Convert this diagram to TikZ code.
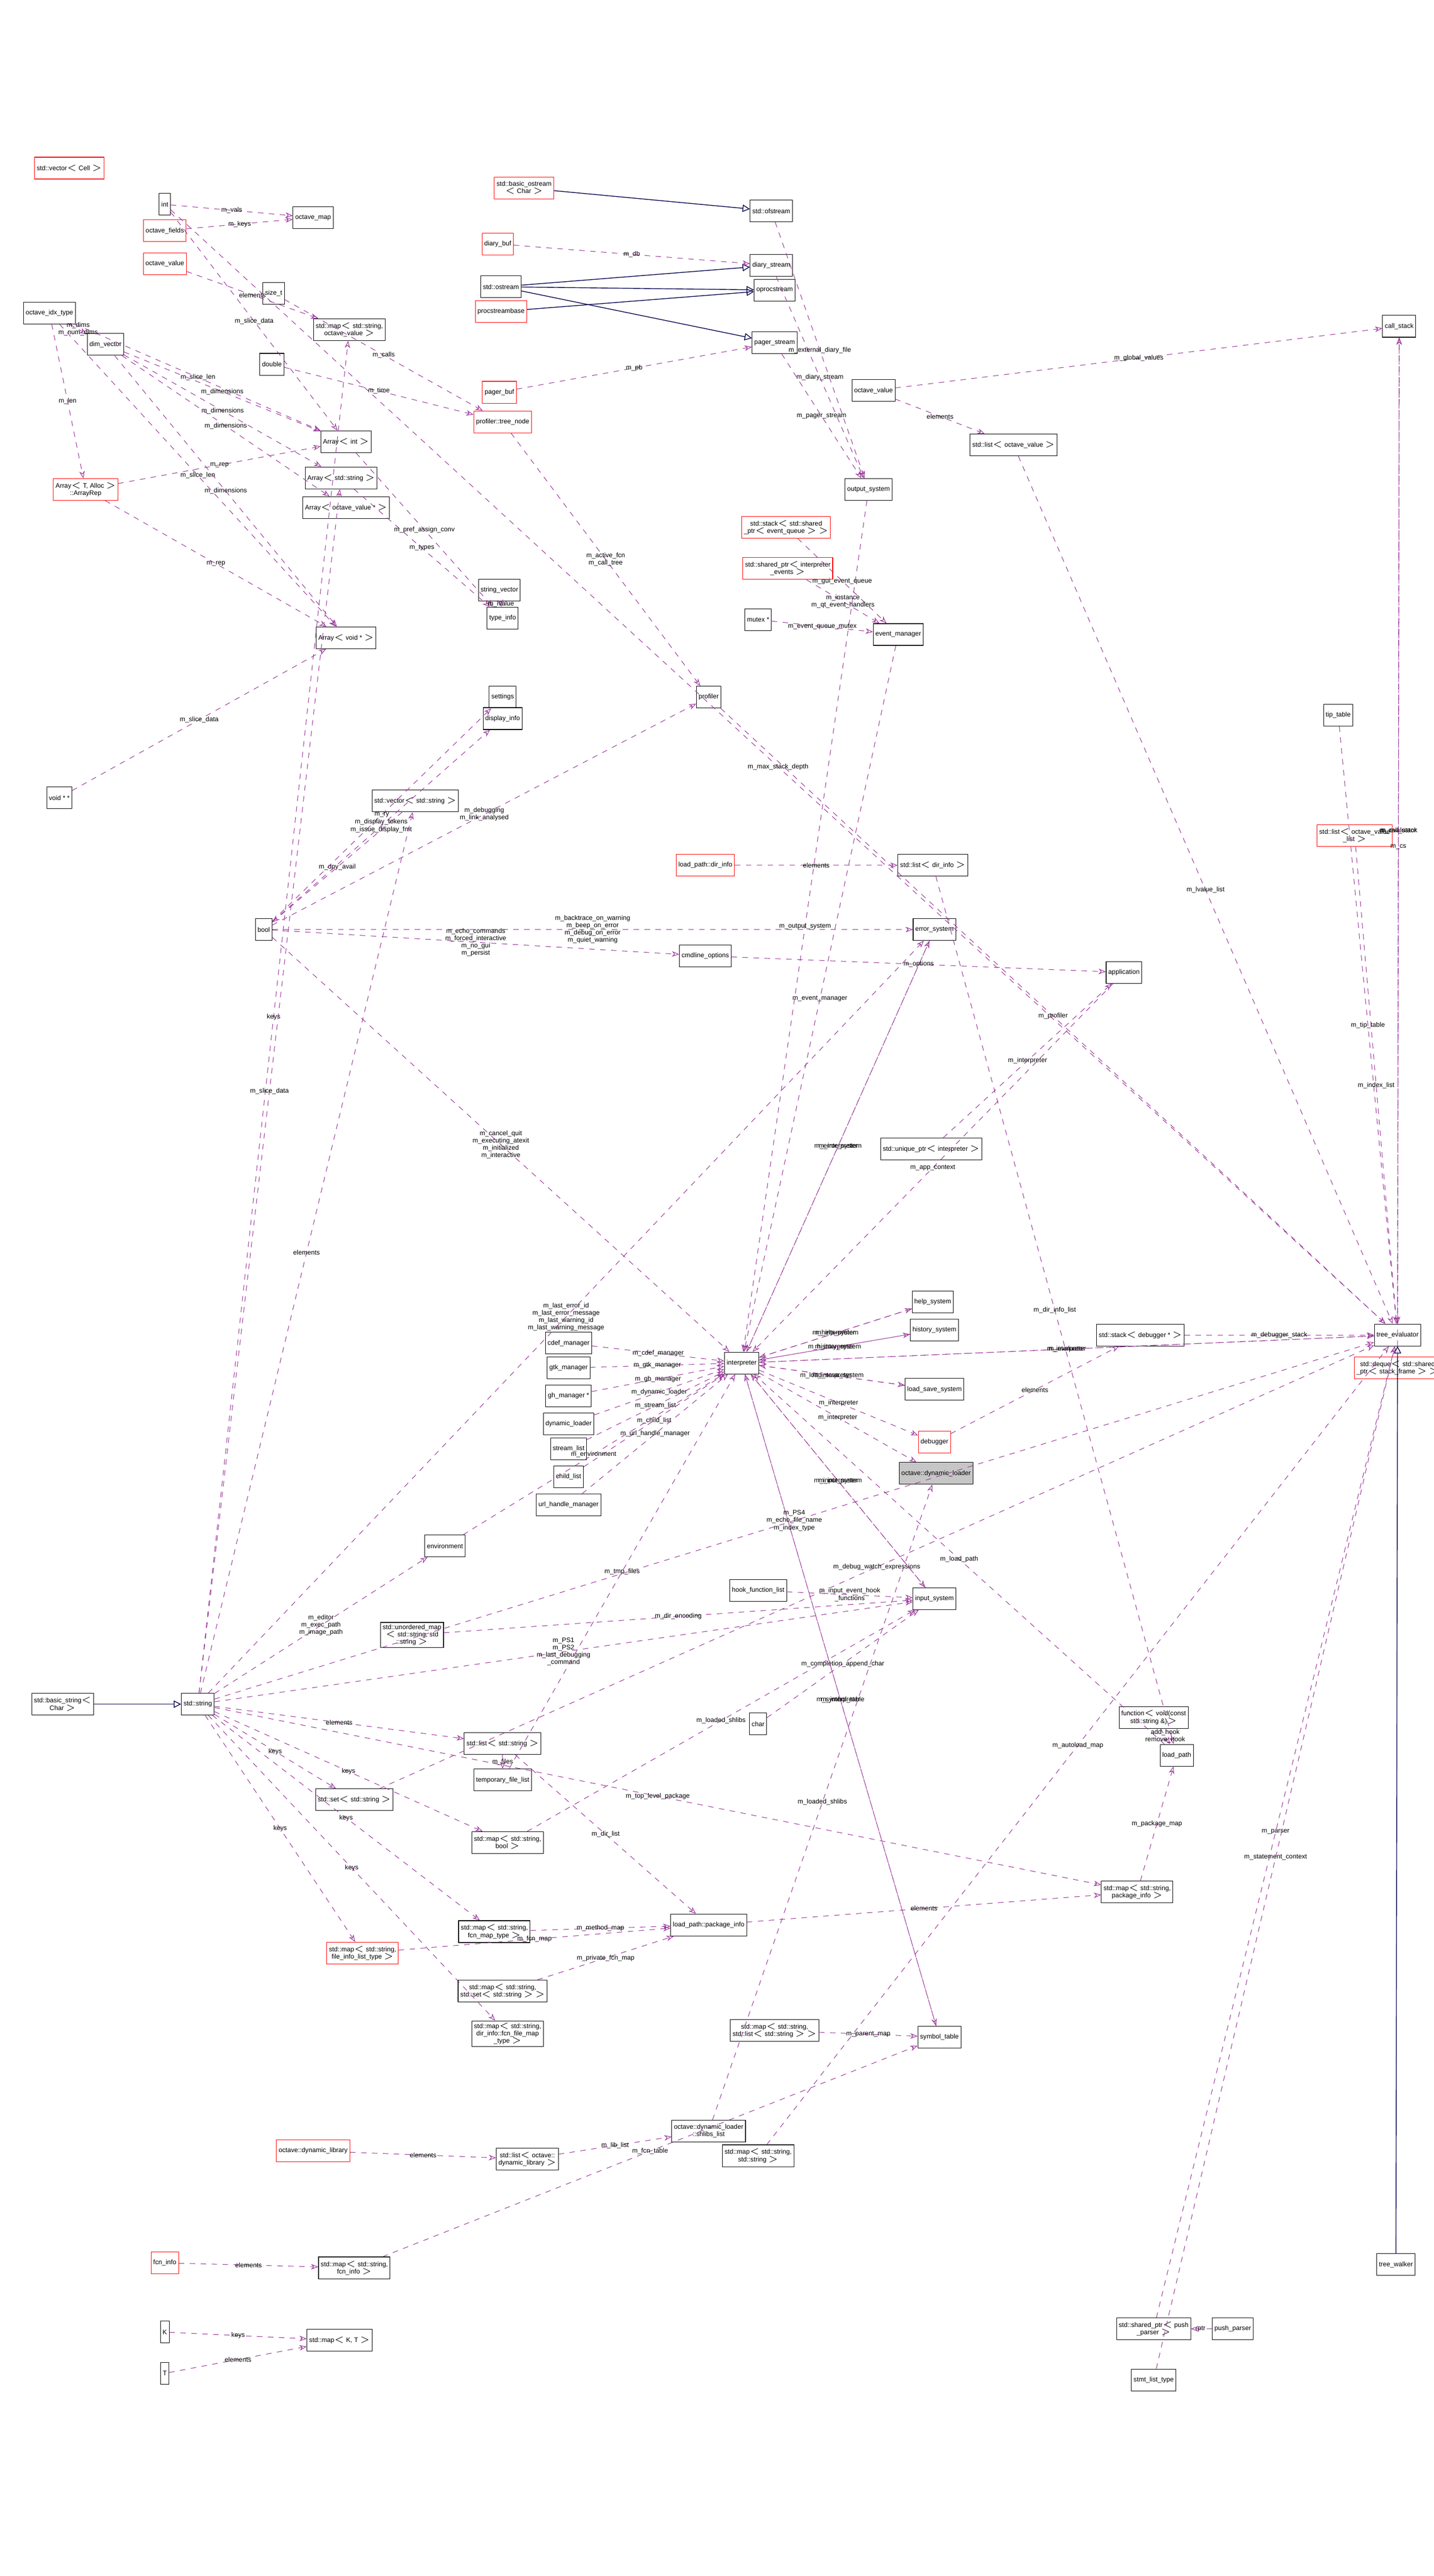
\documentclass[tikz,border=0pt]{standalone}
\usepackage{fontspec}
\setmainfont{Liberation Sans}
\usetikzlibrary{arrows.meta}
\tikzset{
  every node/.style={font=\fontsize{3.6}{4}\selectfont},
  cls/.style={draw=black, line width=0.3pt, fill=white, inner sep=1.2pt, minimum height=0.42cm, align=center},
  redcls/.style={cls, draw=red},
  curcls/.style={cls, fill=gray!45},
  use/.style={draw=violet!80, dashed, line width=0.3pt, -{Stealth[open,length=4pt,width=3pt]}},
  inh/.style={draw=blue!30!black, line width=0.4pt, -{Triangle[open,length=4pt,width=4pt]}},
  lbl/.style={align=center, inner sep=0.5pt, text=black}
}
\begin{document}
\begin{tikzpicture}[x=0.03176cm, y=-0.03176cm]
    \useasboundingbox[fill=white] (0,0) rectangle (870,1563);

    % Left column
    \node[cls] (bstr) at (38,1034) {std::basic\_string$<$\\Char $>$};
    \node[cls] (str) at (120,1034) {std::string};
    \node[cls] (idx) at (30,190) {octave\_idx\_type};
    \node[cls] (dimv) at (64,209) {dim\_vector};
    \node[redcls] (arep) at (52,297) {Array$<$ T, Alloc $>$\\::ArrayRep};
    \node[cls] (voidpp) at (36,484) {void * *};
    \node[redcls] (veccell) at (42,102) {std::vector$<$ Cell $>$};
    \node[cls] (int) at (100,124) {int};
    \node[redcls] (fields) at (100,140) {octave\_fields};
    \node[redcls] (ovalL) at (100,160) {octave\_value};
    \node[cls] (omap) at (190,132) {octave\_map};
    \node[cls] (sizet) at (166,178) {size\_t};
    \node[cls] (mapso) at (212,200) {std::map$<$ std::string,\\octave\_value $>$};
    \node[cls] (double) at (165,221) {double};
    \node[cls] (aint) at (210,268) {Array$<$ int $>$};
    \node[cls] (astr) at (207,290) {Array$<$ std::string $>$};
    \node[cls] (aov) at (210,308) {Array$<$ octave\_value * $>$};
    \node[cls] (avoid) at (210,387) {Array$<$ void * $>$};
    \node[cls] (bool) at (160,564) {bool};
    \node[cls] (vecstr) at (252,486) {std::vector$<$ std::string $>$};

    % Streams
    \node[redcls] (bostr) at (318,114) {std::basic\_ostream\\$<$ Char $>$};
    \node[cls] (ofs) at (468,128) {std::ofstream};
    \node[redcls] (dbuf) at (302,148) {diary\_buf};
    \node[cls] (ostr) at (304,174) {std::ostream};
    \node[redcls] (psb) at (304,189) {procstreambase};
    \node[redcls] (pbuf) at (303,238) {pager\_buf};
    \node[redcls] (tnode) at (305,256) {profiler::tree\_node};
    \node[cls] (dstream) at (468,161) {diary\_stream};
    \node[cls] (oproc) at (470,176) {oprocstream};
    \node[cls] (pstream) at (470,208) {pager\_stream};
    \node[cls] (strv) at (303,358) {string\_vector};
    \node[cls] (tinfo) at (305,375) {type\_info};
    \node[cls] (settings) at (305,423) {settings};
    \node[cls] (dinfo) at (305,436) {display\_info};

    % Upper right
    \node[cls] (outsys) at (527,297) {output\_system};
    \node[cls] (oval) at (530,237) {octave\_value};
    \node[cls] (lov) at (615,270) {std::list$<$ octave\_value $>$};
    \node[cls] (cstack) at (849,198) {call\_stack};
    \node[redcls] (steq) at (477,320) {std::stack$<$ std::shared\\\_ptr$<$ event\_queue $>$ $>$};
    \node[redcls] (spev) at (478,345) {std::shared\_ptr$<$ interpreter\\\_events $>$};
    \node[cls] (mutex) at (460,376) {mutex *};
    \node[cls] (evm) at (545,385) {event\_manager};
    \node[cls] (prof) at (430,423) {profiler};
    \node[cls] (tip) at (812,434) {tip\_table};
    \node[redcls] (lovl) at (822,507) {std::list$<$ octave\_value\\\_list $>$};
    \node[redcls] (dirinfo) at (428,525) {load\_path::dir\_info};
    \node[cls] (ldir) at (566,525) {std::list$<$ dir\_info $>$};
    \node[cls] (errsys) at (567,564) {error\_system};
    \node[cls] (app) at (682,590) {application};
    \node[cls] (cmdl) at (428,580) {cmdline\_options};
    \node[cls] (uptr) at (565,697) {std::unique\_ptr$<$ interpreter $>$};

    % Middle
    \node[cls] (help) at (566,790) {help\_system};
    \node[cls] (hist) at (567,807) {history\_system};
    \node[cls] (lss) at (567,843) {load\_save\_system};
    \node[cls] (interp) at (450,827) {interpreter};
    \node[cls] (cdef) at (345,815) {cdef\_manager};
    \node[cls] (gtk) at (345,830) {gtk\_manager};
    \node[cls] (gh) at (345,847) {gh\_manager *};
    \node[cls] (dynl) at (345,864) {dynamic\_loader};
    \node[cls] (sl) at (345,879) {stream\_list};
    \node[cls] (chl) at (345,896) {child\_list};
    \node[cls] (url) at (345,913) {url\_handle\_manager};
    \node[cls] (env) at (270,938) {environment};
    \node[redcls] (dbg) at (567,875) {debugger};
    \node[curcls] (odl) at (568,894) {octave::dynamic\_loader};
    \node[cls] (stdbg) at (692,810) {std::stack$<$ debugger * $>$};
    \node[cls] (tev) at (848,810) {tree\_evaluator};
    \node[redcls] (deque) at (848,830) {std::deque$<$ std::shared\\\_ptr$<$ stack\_frame $>$ $>$};
    \node[cls] (hook) at (460,965) {hook\_function\_list};
    \node[cls] (insys) at (567,970) {input\_system};
    \node[cls] (umap) at (250,992) {std::unordered\_map\\$<$ std::string, std\\::string $>$};
    \node[cls] (char) at (460,1046) {char};
    \node[cls] (func) at (700,1042) {function$<$ void(const\\std::string \&)$>$};
    \node[cls] (lpath) at (714,1065) {load\_path};

    % Lower
    \node[cls] (lstr) at (305,1058) {std::list$<$ std::string $>$};
    \node[cls] (tmpf) at (305,1080) {temporary\_file\_list};
    \node[cls] (sset) at (215,1092) {std::set$<$ std::string $>$};
    \node[cls] (msb) at (308,1118) {std::map$<$ std::string,\\bool $>$};
    \node[cls] (mpkg) at (690,1148) {std::map$<$ std::string,\\package\_info $>$};
    \node[cls] (pkgi) at (430,1168) {load\_path::package\_info};
    \node[cls] (mfcn) at (300,1172) {std::map$<$ std::string,\\fcn\_map\_type $>$};
    \node[redcls] (mfil) at (220,1185) {std::map$<$ std::string,\\file\_info\_list\_type $>$};
    \node[cls] (mss) at (305,1208) {std::map$<$ std::string,\\std::set$<$ std::string $>$ $>$};
    \node[cls] (mdir) at (308,1234) {std::map$<$ std::string,\\dir\_info::fcn\_file\_map\\\_type $>$};
    \node[cls] (msl) at (470,1232) {std::map$<$ std::string,\\std::list$<$ std::string $>$ $>$};
    \node[cls] (symt) at (570,1236) {symbol\_table};
    \node[cls] (shl) at (430,1293) {octave::dynamic\_loader\\::shlibs\_list};
    \node[redcls] (dlib) at (190,1305) {octave::dynamic\_library};
    \node[cls] (ldlib) at (320,1310) {std::list$<$ octave::\\dynamic\_library $>$};
    \node[cls] (mstr) at (460,1308) {std::map$<$ std::string,\\std::string $>$};
    \node[cls] (twalk) at (847,1374) {tree\_walker};
    \node[redcls] (finfo) at (100,1373) {fcn\_info};
    \node[cls] (mfinfo) at (215,1376) {std::map$<$ std::string,\\fcn\_info $>$};
    \node[cls] (ppar) at (748,1413) {push\_parser};
    \node[cls] (sppar) at (700,1413) {std::shared\_ptr$<$ push\\\_parser $>$};
    \node[cls] (stmt) at (700,1444) {stmt\_list\_type};
    \node[cls] (K) at (100,1415) {K};
    \node[cls] (T) at (100,1440) {T};
    \node[cls] (mkt) at (206,1420) {std::map$<$ K, T $>$};

    % Inheritance
    \draw[inh] (bstr) -- (str);
    \draw[inh] (bostr) -- (ofs);
    \draw[inh] (ostr) -- (dstream);
    \draw[inh] (ostr) -- (oproc);
    \draw[inh] (ostr) -- (pstream);
    \draw[inh] (psb) -- (oproc);
    \draw[inh] (twalk) -- (tev);

    % Members
    \draw[use] (idx) -- node[lbl]{m\_dims\\m\_num\_dims} (dimv);
    \draw[use] (idx) -- node[lbl]{m\_len} (arep);
    \draw[use] (idx) -- node[lbl]{m\_slice\_len} (aint);
    \draw[use] (idx) -- node[lbl]{m\_slice\_len} (avoid);
    \draw[use] (dimv) -- node[lbl]{m\_dimensions} (aint);
    \draw[use] (dimv) -- node[lbl]{m\_dimensions} (astr);
    \draw[use] (dimv) -- node[lbl]{m\_dimensions} (aov);
    \draw[use] (dimv) -- node[lbl]{m\_dimensions} (avoid);
    \draw[use] (arep) -- node[lbl]{m\_rep} (aint);
    \draw[use] (arep) -- node[lbl]{m\_rep} (avoid);
    \draw[use] (voidpp) -- node[lbl]{m\_slice\_data} (avoid);
    \draw[use] (int) -- node[lbl]{m\_slice\_data} (aint);
    \draw[use] (fields) -- node[lbl]{m\_keys} (omap);
    \draw[use] (int) -- node[lbl]{m\_vals} (omap);
    \draw[use] (ovalL) -- node[lbl]{elements} (mapso);
    \draw[use] (str) -- node[lbl]{keys} (mapso);
    \draw[use] (str) -- node[lbl]{m\_slice\_data} (astr);
    \draw[use] (str) -- node[lbl]{elements} (vecstr);
    \draw[use] (vecstr) -- node[lbl]{m\_dpy\_avail} (bool);
    \draw[use] (bool) -- node[lbl]{m\_ry} (settings);
    \draw[use] (bool) -- node[lbl]{m\_display\_tokens\\m\_issue\_display\_fmt} (dinfo);
    \draw[use] (astr) -- node[lbl]{m\_types} (tinfo);
    \draw[use] (aint) -- node[lbl]{m\_pref\_assign\_conv} (tinfo);
    \draw[use] (double) -- node[lbl]{m\_time} (tnode);
    \draw[use] (sizet) -- node[lbl]{m\_calls} (tnode);
    \draw[use] (dbuf) -- node[lbl]{m\_db} (dstream);
    \draw[use] (pbuf) -- node[lbl]{m\_pb} (pstream);
    \draw[use] (dstream) -- node[lbl]{m\_diary\_stream} (outsys);
    \draw[use] (pstream) -- node[lbl]{m\_pager\_stream} (outsys);
    \draw[use] (ofs) -- node[lbl]{m\_external\_diary\_file} (outsys);
    \draw[use] (outsys) -- node[lbl]{m\_output\_system} (interp);
    \draw[use] (tnode) -- node[lbl]{m\_active\_fcn\\m\_call\_tree} (prof);
    \draw[use] (steq) -- node[lbl]{m\_gui\_event\_queue} (evm);
    \draw[use] (spev) -- node[lbl]{m\_instance\\m\_qt\_event\_handlers} (evm);
    \draw[use] (mutex) -- node[lbl]{m\_event\_queue\_mutex} (evm);
    \draw[use] (evm) -- node[lbl]{m\_event\_manager} (interp);
    \draw[use] (prof) -- node[lbl]{m\_profiler} (tev);
    \draw[use] (oval) -- node[lbl]{elements} (lov);
    \draw[use] (oval) -- node[lbl]{m\_global\_values} (cstack);
    \draw[use] (lov) -- node[lbl]{m\_lvalue\_list} (tev);
    \draw[use] (tip) -- node[lbl]{m\_tip\_table} (tev);
    \draw[use] (lovl) -- node[lbl]{m\_index\_list} (tev);
    \draw[use] (cstack) -- node[lbl]{m\_call\_stack} (tev);
    \draw[use] (tev) -- node[lbl]{m\_evaluator} (cstack);
    \draw[use] (deque) -- node[lbl]{m\_cs} (cstack);
    \draw[use] (int) -- node[lbl]{m\_max\_stack\_depth} (tev);
    \draw[use] (dirinfo) -- node[lbl]{elements} (ldir);
    \draw[use] (ldir) -- node[lbl]{m\_dir\_info\_list} (lpath);
    \draw[use] (errsys) -- node[lbl]{m\_error\_system} (interp);
    \draw[use] (interp) -- node[lbl]{m\_interpreter} (errsys);
    \draw[use] (app) -- node[lbl]{m\_app\_context} (interp);
    \draw[use] (cmdl) -- node[lbl]{m\_options} (app);
    \draw[use] (uptr) -- node[lbl]{m\_interpreter} (app);
    \draw[use] (help) -- node[lbl]{m\_help\_system} (interp);
    \draw[use] (hist) -- node[lbl]{m\_history\_system} (interp);
    \draw[use] (lss) -- node[lbl]{m\_load\_save\_system} (interp);
    \draw[use] (interp) -- node[lbl]{m\_interpreter} (help);
    \draw[use] (interp) -- node[lbl]{m\_interpreter} (hist);
    \draw[use] (interp) -- node[lbl]{m\_interpreter} (lss);
    \draw[use] (interp) -- node[lbl]{m\_interpreter} (dbg);
    \draw[use] (interp) -- node[lbl]{m\_interpreter} (odl);
    \draw[use] (interp) -- node[lbl]{m\_interpreter} (insys);
    \draw[use] (interp) -- node[lbl]{m\_interpreter} (symt);
    \draw[use] (interp) -- node[lbl]{m\_interpreter} (tev);
    \draw[use] (tev) -- node[lbl]{m\_evaluator} (interp);
    \draw[use] (cdef) -- node[lbl]{m\_cdef\_manager} (interp);
    \draw[use] (gtk) -- node[lbl]{m\_gtk\_manager} (interp);
    \draw[use] (gh) -- node[lbl]{m\_gh\_manager} (interp);
    \draw[use] (dynl) -- node[lbl]{m\_dynamic\_loader} (interp);
    \draw[use] (sl) -- node[lbl]{m\_stream\_list} (interp);
    \draw[use] (chl) -- node[lbl]{m\_child\_list} (interp);
    \draw[use] (url) -- node[lbl]{m\_url\_handle\_manager} (interp);
    \draw[use] (env) -- node[lbl]{m\_environment} (interp);
    \draw[use] (str) -- node[lbl]{m\_editor\\m\_exec\_path\\m\_image\_path} (env);
    \draw[use] (str) -- node[lbl]{m\_last\_error\_id\\m\_last\_error\_message\\m\_last\_warning\_id\\m\_last\_warning\_message} (errsys);
    \draw[use] (bool) -- node[lbl]{m\_backtrace\_on\_warning\\m\_beep\_on\_error\\m\_debug\_on\_error\\m\_quiet\_warning} (errsys);
    \draw[use] (bool) -- node[lbl]{m\_echo\_commands\\m\_forced\_interactive\\m\_no\_gui\\m\_persist} (cmdl);
    \draw[use] (bool) -- node[lbl]{m\_debugging\\m\_link\_analysed} (prof);
    \draw[use] (bool) -- node[lbl]{m\_cancel\_quit\\m\_executing\_atexit\\m\_initialized\\m\_interactive} (interp);
    \draw[use] (dbg) -- node[lbl]{elements} (stdbg);
    \draw[use] (stdbg) -- node[lbl]{m\_debugger\_stack} (tev);
    \draw[use] (hook) -- node[lbl]{m\_input\_event\_hook\\\_functions} (insys);
    \draw[use] (insys) -- node[lbl]{m\_input\_system} (interp);
    \draw[use] (umap) -- node[lbl]{m\_dir\_encoding} (insys);
    \draw[use] (char) -- node[lbl]{m\_completion\_append\_char} (insys);
    \draw[use] (str) -- node[lbl]{m\_PS1\\m\_PS2\\m\_last\_debugging\\\_command} (insys);
    \draw[use] (func) -- node[lbl]{add\_hook\\remove\_hook} (lpath);
    \draw[use] (lpath) -- node[lbl]{m\_load\_path} (interp);
    \draw[use] (str) -- node[lbl]{elements} (lstr);
    \draw[use] (lstr) -- node[lbl]{m\_files} (tmpf);
    \draw[use] (tmpf) -- node[lbl]{m\_tmp\_files} (interp);
    \draw[use] (lstr) -- node[lbl]{m\_dir\_list} (pkgi);
    \draw[use] (str) -- node[lbl]{keys} (sset);
    \draw[use] (sset) -- node[lbl]{m\_debug\_watch\_expressions} (tev);
    \draw[use] (str) -- node[lbl]{keys} (msb);
    \draw[use] (msb) -- node[lbl]{m\_loaded\_shlibs} (insys);
    \draw[use] (pkgi) -- node[lbl]{elements} (mpkg);
    \draw[use] (mpkg) -- node[lbl]{m\_package\_map} (lpath);
    \draw[use] (str) -- node[lbl]{m\_top\_level\_package} (mpkg);
    \draw[use] (mfcn) -- node[lbl]{m\_method\_map} (pkgi);
    \draw[use] (mfil) -- node[lbl]{m\_fcn\_map} (pkgi);
    \draw[use] (mss) -- node[lbl]{m\_private\_fcn\_map} (pkgi);
    \draw[use] (str) -- node[lbl]{keys} (mfil);
    \draw[use] (str) -- node[lbl]{keys} (mfcn);
    \draw[use] (str) -- node[lbl]{keys} (mdir);
    \draw[use] (msl) -- node[lbl]{m\_parent\_map} (symt);
    \draw[use] (symt) -- node[lbl]{m\_symbol\_table} (interp);
    \draw[use] (shl) -- node[lbl]{m\_loaded\_shlibs} (odl);
    \draw[use] (dlib) -- node[lbl]{elements} (ldlib);
    \draw[use] (ldlib) -- node[lbl]{m\_lib\_list} (shl);
    \draw[use] (mstr) -- node[lbl]{m\_autoload\_map} (tev);
    \draw[use] (finfo) -- node[lbl]{elements} (mfinfo);
    \draw[use] (mfinfo) -- node[lbl]{m\_fcn\_table} (symt);
    \draw[use] (K) -- node[lbl]{keys} (mkt);
    \draw[use] (T) -- node[lbl]{elements} (mkt);
    \draw[use] (ppar) -- node[lbl]{ptr} (sppar);
    \draw[use] (sppar) -- node[lbl]{m\_parser} (tev);
    \draw[use] (stmt) -- node[lbl]{m\_statement\_context} (tev);
    \draw[use] (str) -- node[lbl]{m\_PS4\\m\_echo\_file\_name\\m\_index\_type} (tev);
    \draw[use] (strv) -- node[lbl]{m\_lvalue} (tinfo);
\end{tikzpicture}
\end{document}
